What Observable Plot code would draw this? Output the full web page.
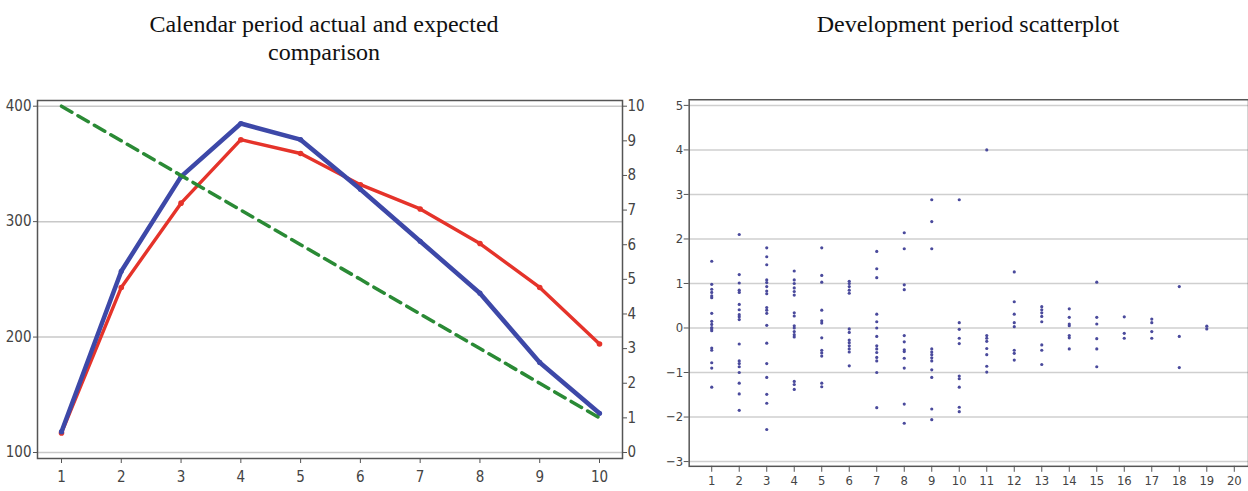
<!DOCTYPE html>
<html><head><meta charset="utf-8">
<script src="https://cdn.jsdelivr.net/npm/d3@7"></script>
<script src="https://cdn.jsdelivr.net/npm/@observablehq/plot@0.6"></script>
<style>
body{margin:0;width:1248px;height:491px;overflow:hidden;background:#fff;position:relative}
.t{position:absolute;font-family:"Liberation Serif","Times New Roman",serif;font-size:24px;line-height:28px;text-align:center;color:#111;white-space:nowrap}
.p{position:absolute}
</style></head><body>
<div class="t" style="left:124px;width:400px;top:10px">Calendar period actual and expected<br>comparison</div>
<div class="t" style="left:768px;width:400px;top:10px">Development period scatterplot</div>
<div id="L1" class="p" style="left:0;top:90px"></div>
<div id="L2" class="p" style="left:0;top:90px"></div>
<div id="R" class="p" style="left:640px;top:90px"></div>
<script>
// ---- Left panel data ----
const periods = [1, 2, 3, 4, 5, 6, 7, 8, 9, 10];
const blueSeries = [118, 257, 339, 385, 371, 328, 283, 238, 178, 134];
const redSeries = [117, 243, 316, 371, 359, 332, 311, 281, 243, 194];
const greenSeries = [10, 9, 8, 7, 6, 5, 4, 3, 2, 1];
const leftTicks = [100, 200, 300, 400];
const rightTicks = [0, 1, 2, 3, 4, 5, 6, 7, 8, 9, 10];

// ---- Right panel data (development period -> residuals) ----
const devPeriods = [1, 2, 3, 4, 5, 6, 7, 8, 9, 10, 11, 12, 13, 14, 15, 16, 17, 18, 19, 20];
const dev1 = [1.5, 0.98, 0.87, 0.8, 0.72, 0.68, 0.33, 0.15, 0.08, 0.01, -0.02, -0.06, -0.45, -0.5, -0.78, -0.9, -1.33];
const dev2 = [2.1, 1.2, 1.01, 0.85, 0.8, 0.53, 0.41, 0.3, 0.25, 0.19, -0.36, -0.74, -0.8, -0.87, -1.0, -1.24, -1.48, -1.85];
const dev3 = [1.8, 1.6, 1.42, 1.08, 1.02, 0.93, 0.83, 0.77, 0.46, 0.4, 0.33, 0.06, -0.34, -0.8, -1.11, -1.49, -1.69, -2.28];
const dev4 = [1.28, 1.08, 1.0, 0.9, 0.82, 0.74, 0.34, 0.27, 0.05, 0.0, -0.08, -0.15, -0.2, -1.2, -1.27, -1.38];
const dev5 = [1.8, 1.18, 1.03, 0.4, 0.16, 0.11, -0.22, -0.5, -0.56, -0.63, -1.24, -1.32];
const dev6 = [1.05, 1.0, 0.93, 0.85, 0.78, -0.02, -0.1, -0.27, -0.33, -0.4, -0.47, -0.54, -0.85];
const dev7 = [1.72, 1.33, 1.13, 0.31, 0.14, 0.0, -0.19, -0.4, -0.47, -0.55, -0.66, -0.74, -1.0, -1.79];
const dev8 = [2.14, 1.78, 0.97, 0.86, -0.17, -0.31, -0.49, -0.53, -0.68, -0.9, -1.71, -2.14];
const dev9 = [2.88, 2.39, 1.78, -0.47, -0.54, -0.6, -0.67, -0.74, -0.94, -1.11, -1.82, -2.06];
const dev10 = [2.88, 0.12, -0.03, -0.23, -0.35, -1.08, -1.14, -1.33, -1.78, -1.88];
const dev11 = [4.0, -0.17, -0.23, -0.3, -0.46, -0.6, -0.86, -0.99];
const dev12 = [1.26, 0.59, 0.31, 0.12, 0.03, -0.5, -0.57, -0.72];
const dev13 = [0.48, 0.41, 0.34, 0.26, 0.14, -0.38, -0.5, -0.82];
const dev14 = [0.43, 0.24, 0.09, 0.05, -0.17, -0.22, -0.47];
const dev15 = [1.03, 0.24, 0.09, -0.24, -0.47, -0.87];
const dev16 = [0.25, -0.12, -0.23];
const dev17 = [0.2, 0.12, -0.08, -0.23];
const dev18 = [0.93, -0.19, -0.89];
const dev19 = [0.04, -0.02];
const dev20 = [];
const devColumns = [dev1, dev2, dev3, dev4, dev5, dev6, dev7, dev8, dev9, dev10, dev11, dev12, dev13, dev14, dev15, dev16, dev17, dev18, dev19, dev20];
const rightYTicks = [-3, -2, -1, 0, 1, 2, 3, 4, 5];

// ---- tables ----
const blueData = periods.map((p, i) => ({period: p, value: blueSeries[i]}));
const redData = periods.map((p, i) => ({period: p, value: redSeries[i]}));
const greenData = periods.map((p, i) => ({period: p, value: greenSeries[i]}));
const scatterData = devColumns.flatMap((col, i) => col.map(v => ({dev: devPeriods[i], resid: v})));

const FONT = '"Liberation Sans Narrow","DejaVu Sans Condensed","Liberation Sans",sans-serif';
const dims = {width: 660, height: 401, marginLeft: 37, marginRight: 38, marginTop: 10, marginBottom: 33,
  insetLeft: 24, insetRight: 23, insetTop: 5.7, insetBottom: 6};

const L1 = Plot.plot({
  ...dims,
  style: {background: "transparent", fontFamily: FONT, fontSize: "15px", color: "#444"},
  x: {domain: [1, 10]},
  y: {domain: [100, 400]},
  marks: [
    Plot.gridY(leftTicks, {stroke: "#c8c8c8", strokeOpacity: 1, strokeWidth: 1.5}),
    Plot.frame({stroke: "#555", strokeWidth: 1.5}),
    Plot.axisY(leftTicks, {tickSize: 4, tickPadding: 2, stroke: "#555", fill: "#444", label: null}),
    Plot.axisX(periods, {tickSize: 5, tickPadding: 8, stroke: "#555", fill: "#444", label: null, tickFormat: d => String(d)}),
    Plot.line(redData, {x: "period", y: "value", stroke: "#e5332a", strokeWidth: 3.4}),
    Plot.dot(redData, {x: "period", y: "value", fill: "#e5332a", r: 2.8}),
    Plot.line(blueData, {x: "period", y: "value", stroke: "#3d48a8", strokeWidth: 4.5}),
    Plot.dot(blueData, {x: "period", y: "value", fill: "#3d48a8", r: 2.6})
  ]
});
document.getElementById("L1").append(L1);

const L2 = Plot.plot({
  ...dims,
  style: {background: "transparent", fontFamily: FONT, fontSize: "15px", color: "#444"},
  x: {domain: [1, 10], axis: null},
  y: {domain: [0, 10]},
  marks: [
    Plot.axisY(rightTicks, {anchor: "right", tickSize: 4, tickPadding: 1, stroke: "#555", fill: "#444", label: null}),
    Plot.line(greenData, {x: "period", y: "value", stroke: "#2a8a35", strokeWidth: 3.5, strokeDasharray: "12,7"})
  ]
});
document.getElementById("L2").append(L2);

const R = Plot.plot({
  width: 612, height: 401, marginLeft: 49, marginRight: 0, marginTop: 9.3, marginBottom: 22.7,
  insetLeft: 22.7, insetRight: 14.3, insetTop: 5.7, insetBottom: 4.8,
  style: {background: "transparent", fontFamily: FONT, fontSize: "13px", color: "#444"},
  x: {domain: [1, 20]},
  y: {domain: [-3, 5]},
  marks: [
    Plot.gridY(rightYTicks, {stroke: "#cfcfcf", strokeOpacity: 1, strokeWidth: 1.5}),
    Plot.frame({stroke: "#555", strokeWidth: 1.5}),
    Plot.axisY(rightYTicks, {tickSize: 5, tickPadding: 1, stroke: "#555", fill: "#444", label: null}),
    Plot.axisX(devPeriods, {tickSize: 6, tickPadding: 4, stroke: "#555", fill: "#444", label: null, tickFormat: d => String(d)}),
    Plot.dot(scatterData, {x: "dev", y: "resid", fill: "#4a4a9c", r: 1.6})
  ]
});
document.getElementById("R").append(R);
</script>
</body></html>
